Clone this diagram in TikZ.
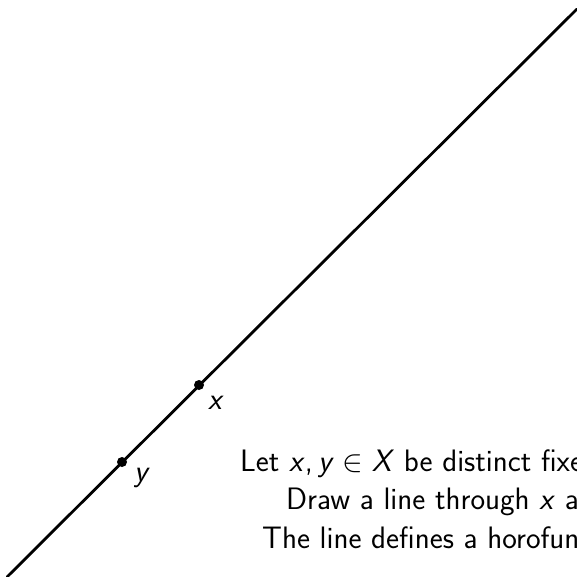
\RequirePackage{fix-cm}
\documentclass[tikz,border=0pt]{standalone}
\newcommand{\mv}[1]{\textsf{\textit{#1}}}
\tikzset{
  geo/.style={line width=2.8pt, line cap=round},
  pt/.style={circle, fill=black, inner sep=0pt, minimum size=10pt},
  lbl/.style={font=\sffamily\fontsize{31}{37}\selectfont, inner sep=0pt},
  txt/.style={font=\sffamily\fontsize{31}{37}\selectfont, inner sep=0pt, anchor=base west}
}
\begin{document}
\begin{tikzpicture}[x=1pt, y=-1pt]
\useasboundingbox (0,0) rectangle (577,577);
\begin{scope}
\clip (0,0) rectangle (577,577);
\coordinate (a) at (7,577);
\coordinate (b) at (577,9);
\draw[geo] (a) -- (b);
\node[pt] (x) at (199,385) {};
\node[pt] (y) at (122,462) {};
\node[lbl] (xl) at (216,403) {\mv{x}};
\node[lbl] (yl) at (142,478) {\mv{y}};
\node[txt] (t1) at (240,471) {Let \mv{x},\,\mv{y}$\;\in\;$\mv{X} be distinct fixed points.};
\node[txt] (t2) at (286,509) {Draw a line through \mv{x} and \mv{y}.};
\node[txt] (t3) at (262,548) {The line defines a horofunction.};
\end{scope}
\end{tikzpicture}
\end{document}
